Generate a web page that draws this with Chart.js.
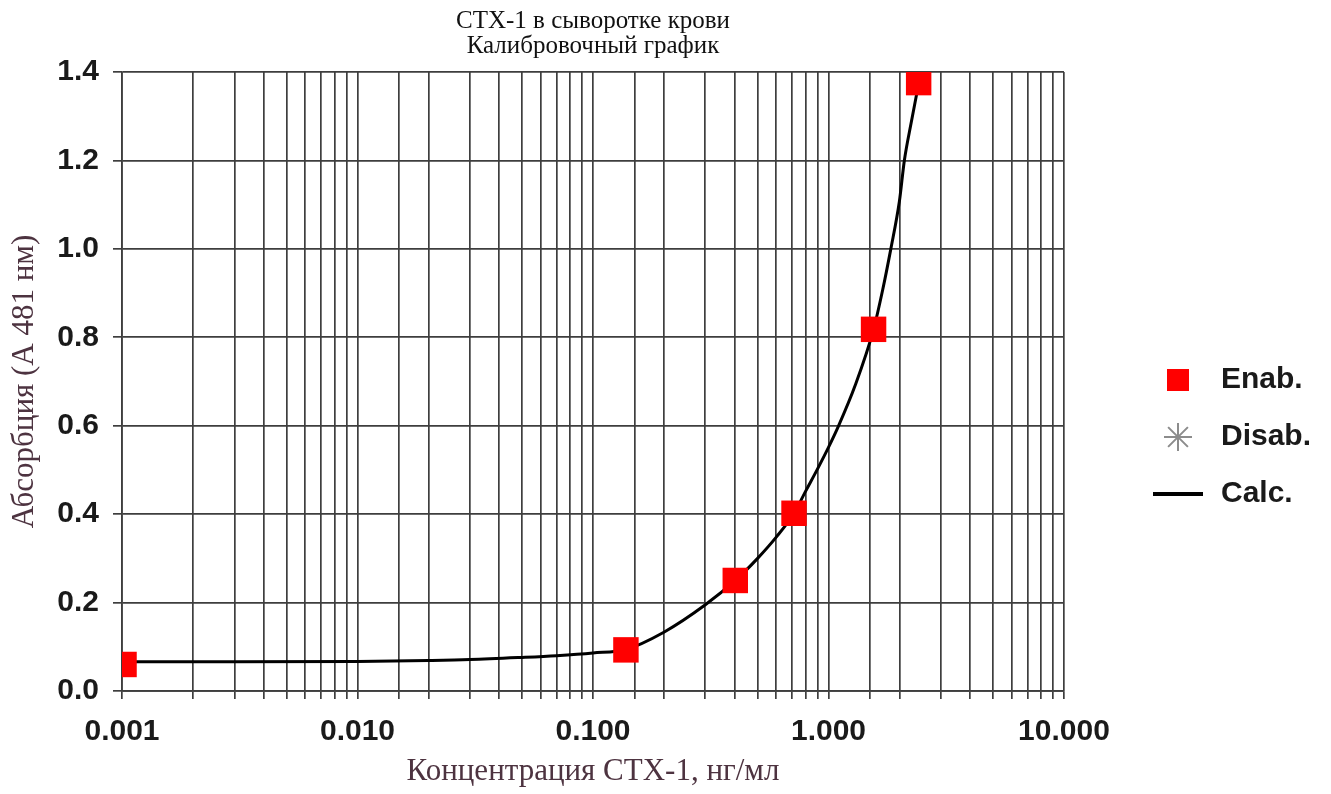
<!DOCTYPE html>
<html lang="ru">
<head>
<meta charset="utf-8">
<title>СТХ-1 в сыворотке крови</title>
<script src="https://cdn.jsdelivr.net/npm/chart.js@4.4.1/dist/chart.umd.min.js"></script>
<style>
  html, body { margin: 0; padding: 0; background: #ffffff; }
  #wrap { width: 1331px; height: 794px; }
</style>
</head>
<body>
<div id="wrap"><canvas id="calChart" width="1331" height="794"></canvas></div>
<script>
// measured standards (Enab.)
const enabConc = [0.00102, 0.138, 0.402, 0.714, 1.554, 2.415];
const enabAbs = [0.06, 0.093, 0.25, 0.402, 0.818, 1.376];

// calculated calibration curve (Calc.)
const calcConc = [0.001, 0.003, 0.01, 0.02, 0.03, 0.05, 0.07, 0.1, 0.138, 0.2, 0.3, 0.402, 0.5, 0.6, 0.714, 0.8, 0.9, 1.0, 1.1, 1.3, 1.554, 1.7, 1.84, 2.0, 2.1, 2.25, 2.42];
const calcAbs = [0.066, 0.066, 0.067, 0.069, 0.071, 0.076, 0.08, 0.086, 0.094, 0.133, 0.195, 0.25, 0.3, 0.348, 0.402, 0.452, 0.503, 0.551, 0.598, 0.692, 0.818, 0.908, 1.0, 1.107, 1.2, 1.288, 1.376];

const xTickLabels = ["0.001", "0.010", "0.100", "1.000", "10.000"];
const legendLabels = ["Enab.", "Disab.", "Calc."];

const gridColor = "#3e3e3e";
const tickFont = { family: "'Liberation Sans', Arial, sans-serif", size: 30, weight: "bold" };
const serifFont = "'Liberation Serif', 'Times New Roman', serif";

// legend symbols drawn on small canvases
function makeSymbol(kind) {
  const c = document.createElement("canvas");
  const g = c.getContext("2d");
  if (kind === "square") {
    c.width = 22;
    c.height = 22;
    g.fillStyle = "#ff0000";
    g.fillRect(0, 0, 22, 22);
  } else if (kind === "star") {
    c.width = 30;
    c.height = 30;
    g.strokeStyle = "#8c8c8c";
    g.lineWidth = 2;
    g.beginPath();
    for (let k = 0; k < 4; k++) {
      const a = (k * Math.PI) / 4;
      g.moveTo(15 - Math.cos(a) * 14, 15 - Math.sin(a) * 14);
      g.lineTo(15 + Math.cos(a) * 14, 15 + Math.sin(a) * 14);
    }
    g.stroke();
  } else {
    c.width = 50;
    c.height = 4;
    g.fillStyle = "#000000";
    g.fillRect(0, 0, 50, 4);
  }
  return c;
}

const legendSymbols = [makeSymbol("square"), makeSymbol("star"), makeSymbol("line")];

function toPoints(xs, ys) {
  return xs.map((x, i) => ({ x: x, y: ys[i] }));
}

function buildChart() {
  const ctx = document.getElementById("calChart");

  new Chart(ctx, {
    type: "line",
    data: {
      datasets: [
        {
          label: legendLabels[0],
          data: toPoints(enabConc, enabAbs),
          showLine: false,
          pointStyle: "rect",
          pointRadius: 18,
          pointBackgroundColor: "#ff0000",
          pointBorderColor: "#ff0000",
          pointBorderWidth: 0,
          backgroundColor: "#ff0000",
          clip: 0,
        },
        {
          label: legendLabels[1],
          data: [],
          showLine: false,
          pointStyle: "star",
          pointRadius: 14,
          pointBorderColor: "#8c8c8c",
          pointBorderWidth: 2,
        },
        {
          label: legendLabels[2],
          data: toPoints(calcConc, calcAbs),
          borderColor: "#000000",
          borderWidth: 3,
          pointRadius: 0,
          cubicInterpolationMode: "monotone",
          fill: false,
        },
      ],
    },
    options: {
      responsive: false,
      animation: false,
      devicePixelRatio: 1,
      layout: {
        padding: { left: 0, right: 10, top: 0, bottom: 0 },
      },
      plugins: {
        tooltip: { enabled: false },
        title: {
          display: true,
          fullSize: false,
          text: ["СТХ-1 в сыворотке крови", "Калибровочный график"],
          color: "#111111",
          font: { family: serifFont, size: 25, weight: "normal", lineHeight: 1.0 },
          padding: { top: 9, bottom: 13 },
        },
        legend: {
          position: "right",
          align: "center",
          title: {
            display: true,
            text: " ",
            color: "rgba(0,0,0,0)",
            font: { size: 10 },
            padding: { top: 68, bottom: 0 },
          },
          labels: {
            usePointStyle: true,
            pointStyleWidth: 56,
            boxHeight: 21,
            padding: 27,
            color: "#1a1a1a",
            font: tickFont,
            generateLabels: function (chart) {
              const items = Chart.defaults.plugins.legend.labels.generateLabels(chart);
              items.forEach(function (item, i) {
                item.pointStyle = legendSymbols[i];
              });
              return items;
            },
          },
        },
      },
      scales: {
        x: {
          type: "logarithmic",
          min: 0.001,
          max: 10,
          ticks: {
            autoSkip: false,
            maxRotation: 0,
            padding: 15,
            color: "#1a1a1a",
            font: tickFont,
            callback: function (value) {
              const p = Math.log10(value);
              if (Math.abs(p - Math.round(p)) > 1e-6) return "";
              return xTickLabels[Math.round(p) + 3];
            },
          },
          grid: { color: gridColor, lineWidth: 1.7, tickLength: 8 },
          border: { color: gridColor, width: 1.7 },
          title: {
            display: true,
            text: "Концентрация СТХ-1, нг/мл",
            color: "#4d3340",
            font: { family: serifFont, size: 31 },
            padding: { top: 2, bottom: 4 },
          },
          afterFit: function (scale) {
            scale.height = 103;
          },
        },
        y: {
          min: 0,
          max: 1.4,
          ticks: {
            stepSize: 0.2,
            padding: 14,
            color: "#1a1a1a",
            font: tickFont,
            callback: function (value) {
              return value.toFixed(1);
            },
          },
          grid: { color: gridColor, lineWidth: 1.7, tickLength: 9 },
          border: { color: gridColor, width: 1.7 },
          title: {
            display: true,
            text: "Абсорбция (А 481 нм)",
            color: "#4d3340",
            font: { family: serifFont, size: 31 },
            padding: { top: 6, bottom: 0 },
          },
          afterFit: function (scale) {
            scale.width = 122;
          },
        },
        // empty spacer between the plot and the legend
        gap: {
          position: "right",
          display: true,
          grid: { display: false, drawTicks: false },
          border: { display: false },
          ticks: { display: false },
          afterFit: function (scale) {
            scale.width = 59;
          },
        },
      },
    },
  });
}

document.addEventListener("DOMContentLoaded", buildChart);
</script>
</body>
</html>
